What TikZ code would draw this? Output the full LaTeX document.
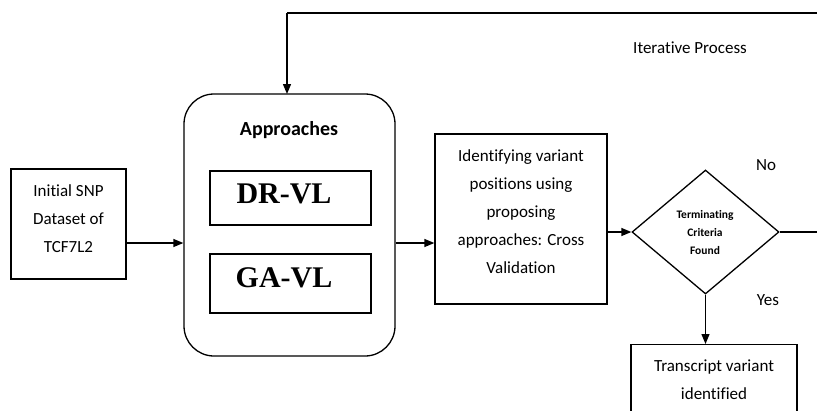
\documentclass[tikz,border=0pt]{standalone}
\usepackage{fontspec}
\setmainfont[Ligatures={NoCommon}]{Carlito}
\newfontfamily\tnr{Liberation Serif}
\usetikzlibrary{arrows.meta,shapes.geometric,positioning}
\begin{document}
\begin{tikzpicture}[x=1pt,y=-1pt,
  box/.style={draw, line width=1.3pt, inner sep=0pt},
  txt/.style={font=\fontsize{17}{28}\selectfont, align=center, inner sep=0pt},
  arr/.style={line width=1.3pt, -{Triangle[length=10pt,width=8pt]}},
  ln/.style={line width=1.3pt}]
\useasboundingbox[fill=white] (0,0) rectangle (817,410);
% boxes
\node[box, minimum width=115pt, minimum height=110pt] (init) at (68.5,224) {};
\node[txt] (inittxt) at (68.5,219) {Initial SNP\\Dataset of\\TCF7L2};
\node[box, rounded corners=30pt, minimum width=211pt, minimum height=262pt] (appr) at (289.5,225) {};
\node[inner sep=0pt, font=\fontsize{20}{24}\selectfont\bfseries] (apprtxt) at (289,130) {Approaches};
\node[box, minimum width=161pt, minimum height=54pt] (dr) at (290.5,198) {};
\node[inner sep=0pt, font=\fontsize{30}{32}\tnr\bfseries] (drtxt) at (284,194) {DR-VL};
\node[box, minimum width=161pt, minimum height=59pt] (ga) at (290.5,283.5) {};
\node[inner sep=0pt, font=\fontsize{30}{32}\tnr\bfseries] (gatxt) at (284,278) {GA-VL};
\node[box, minimum width=172pt, minimum height=170pt] (ident) at (521,219) {};
\node[txt] (identtxt) at (521,211.5) {Identifying variant\\positions using\\proposing\\approaches: Cross\\Validation};
\node[box, diamond, minimum width=147pt, minimum height=124pt] (dia) at (705.5,232) {};
\node[inner sep=0pt, align=center, font=\fontsize{11.5}{18}\selectfont\bfseries] (diatxt) at (705,233) {Terminating\\Criteria\\Found};
\node[box, minimum width=166pt, minimum height=80pt, anchor=north] (trans) at (714,344) {};
\node[txt] (transtxt) at (714,379.5) {Transcript variant\\identified};
% labels
\node[txt] (iter) at (690,48) {Iterative Process};
\node[txt] (no) at (766,165) {No};
\node[txt] (yes) at (768,300) {Yes};
% connectors
\draw[arr] (init.east |- 0,243) -- (appr.west |- 0,243);
\draw[arr] (appr.east |- 0,243) -- (ident.west |- 0,243);
\draw[arr] (ident.east |- dia.west) -- (dia.west);
\draw[arr] (dia.south) -- (dia.south |- trans.north);
\draw[ln] (dia.east) -- (835,232) -- (835,13) -- (287,13);
\draw[arr] (287,13) -- (287,94);
\end{tikzpicture}
\end{document}
